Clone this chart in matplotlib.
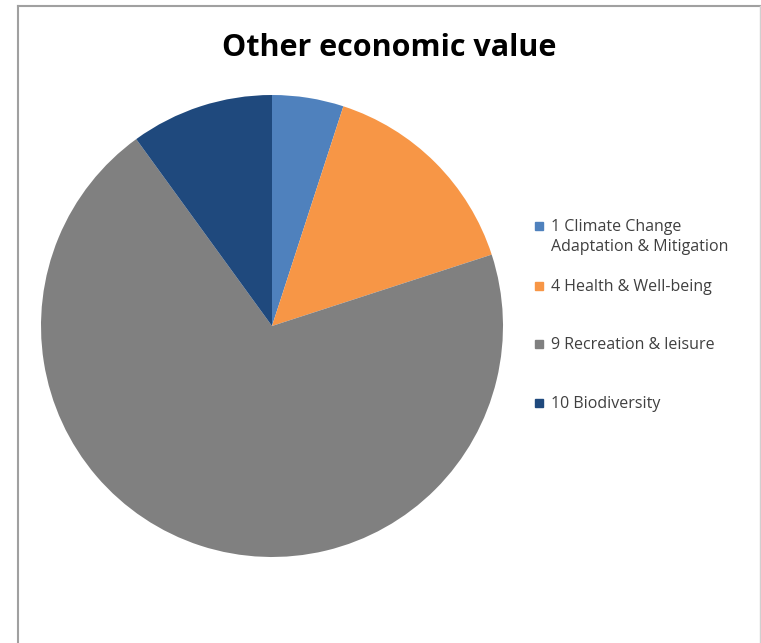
import matplotlib
matplotlib.use("Agg")
import matplotlib.pyplot as plt
from matplotlib.patches import Rectangle
from matplotlib.lines import Line2D

# data
labels = ["1 Climate Change\nAdaptation & Mitigation", "4 Health & Well-being",
          "9 Recreation & leisure", "10 Biodiversity"]
values = [1, 3, 14, 2]
colors = ["#4F81BD", "#F79646", "#808080", "#1F497D"]

W, H = 761, 643
fig = plt.figure(figsize=(W / 100, H / 100), dpi=100)

# chart frame (left, top, right edges)
frame = "#A0A0A0"
fig.add_artist(Line2D([18 / W, 18 / W], [0, 1 - 6 / H], color=frame, lw=1.5))
fig.add_artist(Line2D([18 / W, 760 / W], [1 - 6 / H, 1 - 6 / H], color=frame, lw=1.5))
fig.add_artist(Line2D([759.5 / W, 759.5 / W], [0, 1 - 6 / H], color="#D0D0D0", lw=1))

# pie axes
cx, cy, r = 272, 326, 231
ax = fig.add_axes([(cx - r) / W, 1 - (cy + r) / H, 2 * r / W, 2 * r / H])
ax.pie(values, colors=colors, startangle=90, counterclock=False,
       wedgeprops=dict(linewidth=0))
ax.set_xlim(-1, 1)
ax.set_ylim(-1, 1)
ax.set_aspect("equal")
ax.axis("off")

fig.text(389 / W, 1 - 48 / H, "Other economic value", ha="center", va="center",
         fontsize=22, fontweight="bold", family="Open Sans", color="black")

# legend
ys = [226, 286, 344, 403]
for y, lab, col in zip(ys, labels, colors):
    fig.add_artist(Rectangle((535 / W, 1 - (y + 4) / H), 8 / W, 8 / H,
                             transform=fig.transFigure, color=col))
    fig.text(551 / W, 1 - (y - 7) / H, lab, ha="left", va="top", fontsize=11.5,
             family="Open Sans", color="#404040", linespacing=1.35)

fig.savefig("out.png", dpi=100)
